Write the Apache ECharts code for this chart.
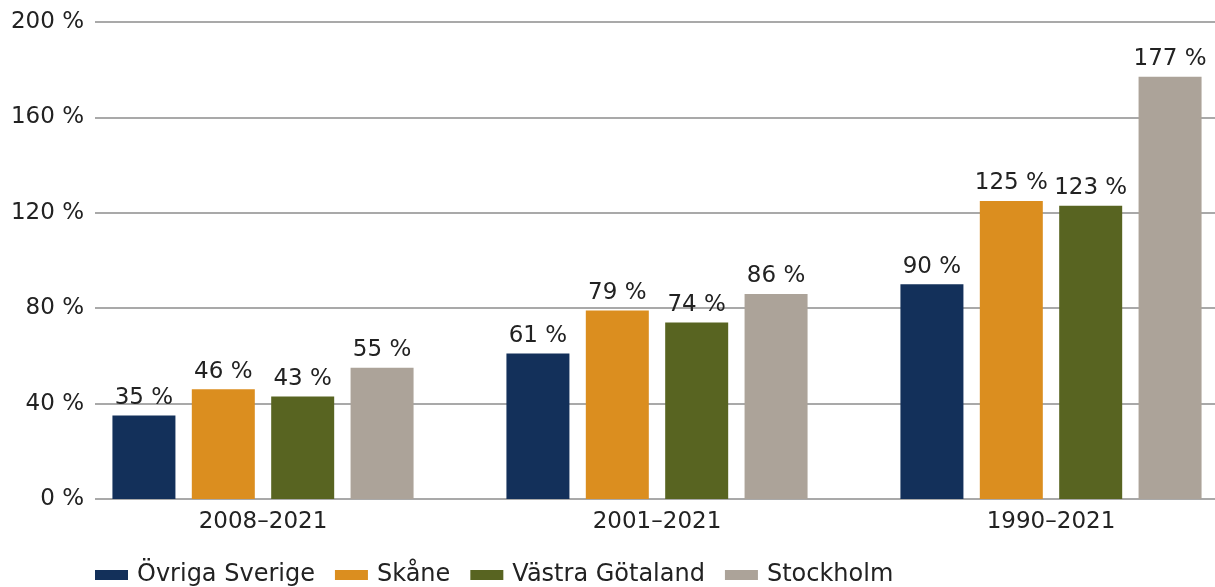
<!DOCTYPE html>
<html>
<head>
<meta charset="utf-8">
<script src="https://cdn.jsdelivr.net/npm/echarts@6/dist/echarts.min.js"></script>
<style>
  html, body { margin: 0; padding: 0; background: #fff; }
  #chart { width: 1215px; height: 587px; }
</style>
</head>
<body>
<div id="chart"></div>
<script>
// periods on the x axis
const periods = ['2008–2021', '2001–2021', '1990–2021'];
// price growth per region, percent
const ovrigaSverige = [35, 61, 90];
const skane = [46, 79, 125];
const vastraGotaland = [43, 74, 123];
const stockholm = [55, 86, 177];
const regionNames = ['Övriga Sverige', 'Skåne', 'Västra Götaland', 'Stockholm'];
const regionColors = ['#13305a', '#db8e1f', '#586421', '#aca399'];

const FONT = 'DejaVu Sans';

function barSeries(name, values, color) {
    return {
        name: name,
        type: 'bar',
        xAxisIndex: 0,
        yAxisIndex: 0,
        data: values,
        barWidth: 63,
        barGap: '26%',
        itemStyle: { color: color },
        label: {
            show: true,
            position: 'top',
            distance: 6,
            formatter: p => p.value + ' %',
            fontFamily: FONT,
            fontSize: 23,
            color: '#222'
        }
    };
}

let chart = echarts.init(document.getElementById('chart'));
chart.setOption({
    animation: false,
    // grid 0 holds the bars (runs past the right edge), grid 1 draws the y labels and grid lines
    grid: [
        { left: 66, width: 1182, top: 22, bottom: 88, outerBoundsMode: 'none' },
        { left: 95, right: 0, top: 22, bottom: 88, outerBoundsMode: 'none' }
    ],
    legend: {
        left: 90,
        top: 558,
        itemWidth: 33,
        itemHeight: 10,
        itemGap: 20,
        icon: 'rect',
        data: regionNames,
        textStyle: { fontFamily: FONT, fontSize: 24, color: '#222', padding: [0, 0, 0, 4] }
    },
    xAxis: [
        {
            gridIndex: 0,
            type: 'category',
            data: periods,
            axisLine: { show: false },
            axisTick: { show: false },
            axisLabel: { margin: 12, fontFamily: FONT, fontSize: 23, color: '#222' }
        },
        {
            gridIndex: 1,
            type: 'category',
            data: periods,
            show: false
        }
    ],
    yAxis: [
        {
            gridIndex: 0,
            type: 'value',
            min: 0,
            max: 200,
            interval: 40,
            show: false
        },
        {
            gridIndex: 1,
            type: 'value',
            min: 0,
            max: 200,
            interval: 40,
            axisLine: { show: false },
            axisTick: { show: false },
            axisLabel: {
                margin: 11,
                formatter: v => v + ' %',
                fontFamily: FONT,
                fontSize: 23,
                color: '#222'
            },
            splitLine: { lineStyle: { color: '#8c8c8c', width: 1.5 } }
        }
    ],
    series: [
        barSeries(regionNames[0], ovrigaSverige, regionColors[0]),
        barSeries(regionNames[1], skane, regionColors[1]),
        barSeries(regionNames[2], vastraGotaland, regionColors[2]),
        barSeries(regionNames[3], stockholm, regionColors[3])
    ]
});
</script>
</body>
</html>
